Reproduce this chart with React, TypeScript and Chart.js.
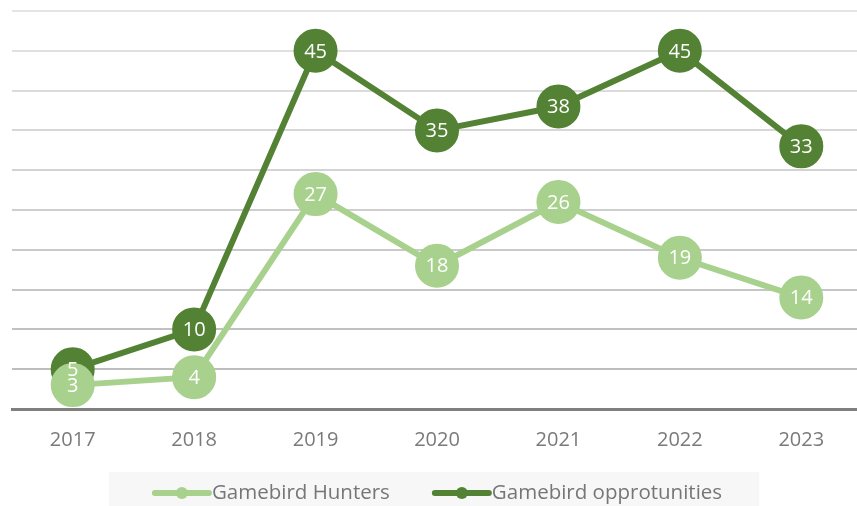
import React, { useEffect, useRef } from "react";
import { Chart, registerables } from "chart.js";

Chart.register(...registerables);

const years = ["2017", "2018", "2019", "2020", "2021", "2022", "2023"];
const hunters = [3, 4, 27, 18, 26, 19, 14];
const opportunities = [5, 10, 45, 35, 38, 45, 33];
const seriesNames = ["Gamebird Hunters", "Gamebird opprotunities"];
const seriesColors = ["#A9D18E", "#548235"];

const FONT = "'Open Sans', 'DejaVu Sans', sans-serif";
const SHIFT_X = 11;
const SHIFT_Y = 12;

function mix(a: number[], b: number[], t: number) {
  const c = a.map((v, i) => Math.round(v + (b[i] - v) * t));
  return `rgb(${c[0]},${c[1]},${c[2]})`;
}

const labelPlugin = {
  id: "pointLabels",
  afterDatasetsDraw(chart: any) {
    const ctx = chart.ctx;
    ctx.save();
    ctx.font = `20px ${FONT}`;
    ctx.fillStyle = "#ffffff";
    ctx.textAlign = "center";
    ctx.textBaseline = "middle";
    chart.data.datasets.forEach((ds: any, i: number) => {
      const meta = chart.getDatasetMeta(i);
      meta.data.forEach((pt: any, j: number) => {
        ctx.fillText(String(ds.data[j]), pt.x, pt.y + 1);
      });
    });
    ctx.restore();
  },
};

const legendPlugin = {
  id: "customLegend",
  afterDraw(chart: any) {
    const ctx = chart.ctx;
    const area = chart.chartArea;
    ctx.save();
    ctx.font = `20.5px ${FONT}`;
    const markerW = 60;
    const gap = 42;
    const widths = chart.data.datasets.map((ds: any) => ctx.measureText(ds.label).width);
    const total = widths.reduce((s: number, w: number) => s + markerW + w, 0) + gap;
    const cx = (area.left + area.right) / 2;
    let x = cx - total / 2;
    const y = 493 + SHIFT_Y;
    ctx.fillStyle = "#f7f7f7";
    ctx.fillRect(x - 43, 472 + SHIFT_Y, total + 80, 40);
    chart.data.datasets.forEach((ds: any, i: number) => {
      ctx.strokeStyle = ds.borderColor;
      ctx.lineWidth = 6;
      ctx.lineCap = "round";
      ctx.beginPath();
      ctx.moveTo(x + 3, y);
      ctx.lineTo(x + markerW - 3, y);
      ctx.stroke();
      ctx.fillStyle = ds.borderColor;
      ctx.beginPath();
      ctx.arc(x + markerW / 2, y, 6, 0, Math.PI * 2);
      ctx.fill();
      ctx.fillStyle = "#767676";
      ctx.textAlign = "left";
      ctx.textBaseline = "middle";
      ctx.fillText(ds.label, x + markerW, y);
      x += markerW + widths[i] + gap;
    });
    ctx.restore();
  },
};

export default function App() {
  const ref = useRef<HTMLCanvasElement | null>(null);
  useEffect(() => {
    if (!ref.current) return;
    const makeDs = (label: string, data: number[], color: string) => ({
      label,
      data,
      borderColor: color,
      backgroundColor: color,
      borderWidth: 6,
      pointRadius: 21,
      pointHoverRadius: 21,
      pointBorderWidth: 2,
      pointBackgroundColor: color,
      pointBorderColor: color,
      tension: 0,
    });
    const chart = new Chart(ref.current, {
      type: "line",
      data: {
        labels: years,
        datasets: [
          makeDs(seriesNames[0], hunters, seriesColors[0]),
          makeDs(seriesNames[1], opportunities, seriesColors[1]),
        ],
      },
      options: {
        responsive: false,
        animation: false,
        layout: { padding: { left: 0, right: 0, top: 0, bottom: 35 } },
        plugins: { legend: { display: false }, tooltip: { enabled: false } },
        scales: {
          x: {
            offset: true,
            grid: { display: false, drawTicks: false },
            border: { display: true, color: "#7f7f7f", width: 3 },
            ticks: { color: "#7a7a7a", font: { family: FONT, size: 20 }, padding: 19 },
          },
          y: {
            min: 0,
            max: 50,
            ticks: { display: false, stepSize: 5 },
            border: { display: false },
            grid: {
              drawTicks: false,
              lineWidth: 2,
              color: (c: any) => {
                const v = c.tick ? c.tick.value : 0;
                return mix([189, 189, 189], [228, 228, 228], (v - 5) / 45);
              },
            },
          },
        },
      },
      plugins: [labelPlugin, legendPlugin],
    });
    return () => chart.destroy();
  }, []);
  return (
    <div style={{ position: "absolute", left: 0, top: 0, width: 857, height: 506, overflow: "hidden", background: "#fff" }}>
      <canvas
        ref={ref}
        width={896}
        height={518}
        style={{ display: "block", position: "absolute", left: -SHIFT_X, top: -SHIFT_Y }}
      />
    </div>
  );
}
